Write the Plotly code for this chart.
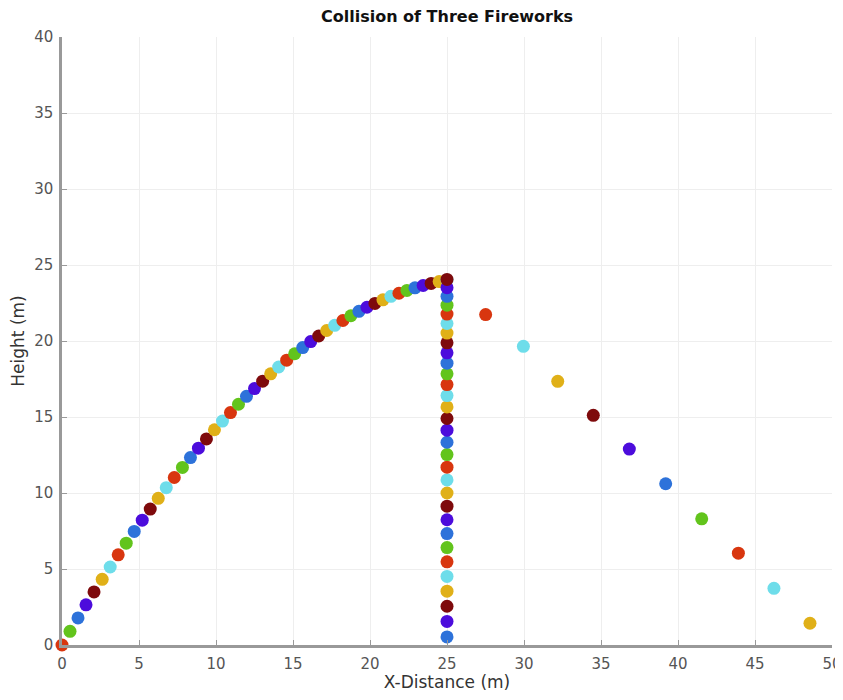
import plotly.graph_objects as go

# ---- data ----
palette = ["#D8360F", "#62C41C", "#2D72DA", "#4C0CDC", "#7E0A0C", "#E0B018", "#6EDDEA"]

curve_x = [0, 0.52, 1.04, 1.56, 2.08, 2.61, 3.13, 3.65, 4.17, 4.69, 5.21, 5.73, 6.25, 6.77,
           7.29, 7.82, 8.34, 8.86, 9.38, 9.90, 10.42, 10.94, 11.46, 11.98, 12.50, 13.03,
           13.55, 14.07, 14.59, 15.11, 15.63, 16.15, 16.67, 17.19, 17.71, 18.24, 18.76,
           19.28, 19.80, 20.32, 20.84, 21.36, 21.88, 22.40, 22.92, 23.45, 23.97, 24.49, 25.0]
curve_y = [0, 0.90, 1.78, 2.64, 3.49, 4.32, 5.13, 5.93, 6.70, 7.47, 8.21, 8.94, 9.65, 10.35,
           11.02, 11.68, 12.33, 12.95, 13.56, 14.16, 14.73, 15.29, 15.84, 16.36, 16.87, 17.36,
           17.84, 18.29, 18.74, 19.16, 19.57, 19.96, 20.33, 20.69, 21.03, 21.35, 21.66,
           21.95, 22.22, 22.47, 22.71, 22.94, 23.14, 23.33, 23.50, 23.65, 23.79, 23.91, 24.01]
curve_colors = [k % 7 for k in range(len(curve_x))]

vert_y = [0.53, 1.55, 2.55, 3.54, 4.51, 5.47, 6.41, 7.33, 8.24, 9.13, 10.00, 10.86, 11.70,
          12.53, 13.34, 14.13, 14.90, 15.66, 16.41, 17.13, 17.84, 18.54, 19.22, 19.88,
          20.52, 21.15, 21.77, 22.36, 22.94, 23.51, 24.05]
vert_x = [25.0] * len(vert_y)
vert_colors = [(k + 2) % 7 for k in range(len(vert_y))]

right_x = [27.51, 29.96, 32.19, 34.50, 36.84, 39.20, 41.54, 43.92, 46.23, 48.57]
right_y = [21.74, 19.65, 17.35, 15.11, 12.89, 10.61, 8.30, 6.04, 3.73, 1.43]
right_colors = [0, 6, 5, 4, 3, 2, 1, 0, 6, 5]

x_ticks = [0, 5, 10, 15, 20, 25, 30, 35, 40, 45, 50]
y_ticks = [0, 5, 10, 15, 20, 25, 30, 35, 40]

FONT = "DejaVu Sans, Liberation Sans, Arial, sans-serif"

# page body has an 8px margin, so the figure is sized/offset to compensate
W, H = 835, 684
L, R, T, B = 54, 11, 29, 47

fig = go.Figure()
for xs, ys, cs in [(curve_x, curve_y, curve_colors),
                   (vert_x, vert_y, vert_colors),
                   (right_x, right_y, right_colors)]:
    fig.add_trace(go.Scatter(
        x=xs, y=ys, mode="markers", cliponaxis=False, showlegend=False,
        marker=dict(size=13, color=[palette[c] for c in cs], line=dict(width=0)),
    ))

axis_common = dict(
    showgrid=True, gridcolor="#EEEEEE", gridwidth=1,
    showline=True, linecolor="#999999", linewidth=2.5,
    ticks="inside", ticklen=5, tickcolor="#999999", tickwidth=1,
    zeroline=False, tickfont=dict(family=FONT, size=15, color="#555555"),
    mirror=False, automargin=False, ticklabeloverflow="allow",
)

fig.update_layout(
    width=W, height=H,
    margin=dict(l=L, r=R, t=T, b=B),
    paper_bgcolor="white", plot_bgcolor="white",
    title=dict(text="<b>Collision of Three Fireworks</b>",
               x=(L + (W - R)) / 2 / W, xanchor="center",
               y=1 - 8 / H, yanchor="middle",
               font=dict(family=FONT, size=16, color="#111111")),
    xaxis=dict(range=[0, 50], tickvals=x_ticks, ticktext=[str(v) for v in x_ticks],
               ticklabelstandoff=3,
               title=dict(text="X-Distance (m)", standoff=8,
                          font=dict(family=FONT, size=17, color="#333333")),
               **axis_common),
    yaxis=dict(range=[0, 40], tickvals=y_ticks, ticktext=[str(v) for v in y_ticks],
               ticklabelstandoff=3,
               title=dict(text="Height (m)", standoff=12,
                          font=dict(family=FONT, size=17, color="#333333")),
               **axis_common),
)

fig.write_html("out.html")
